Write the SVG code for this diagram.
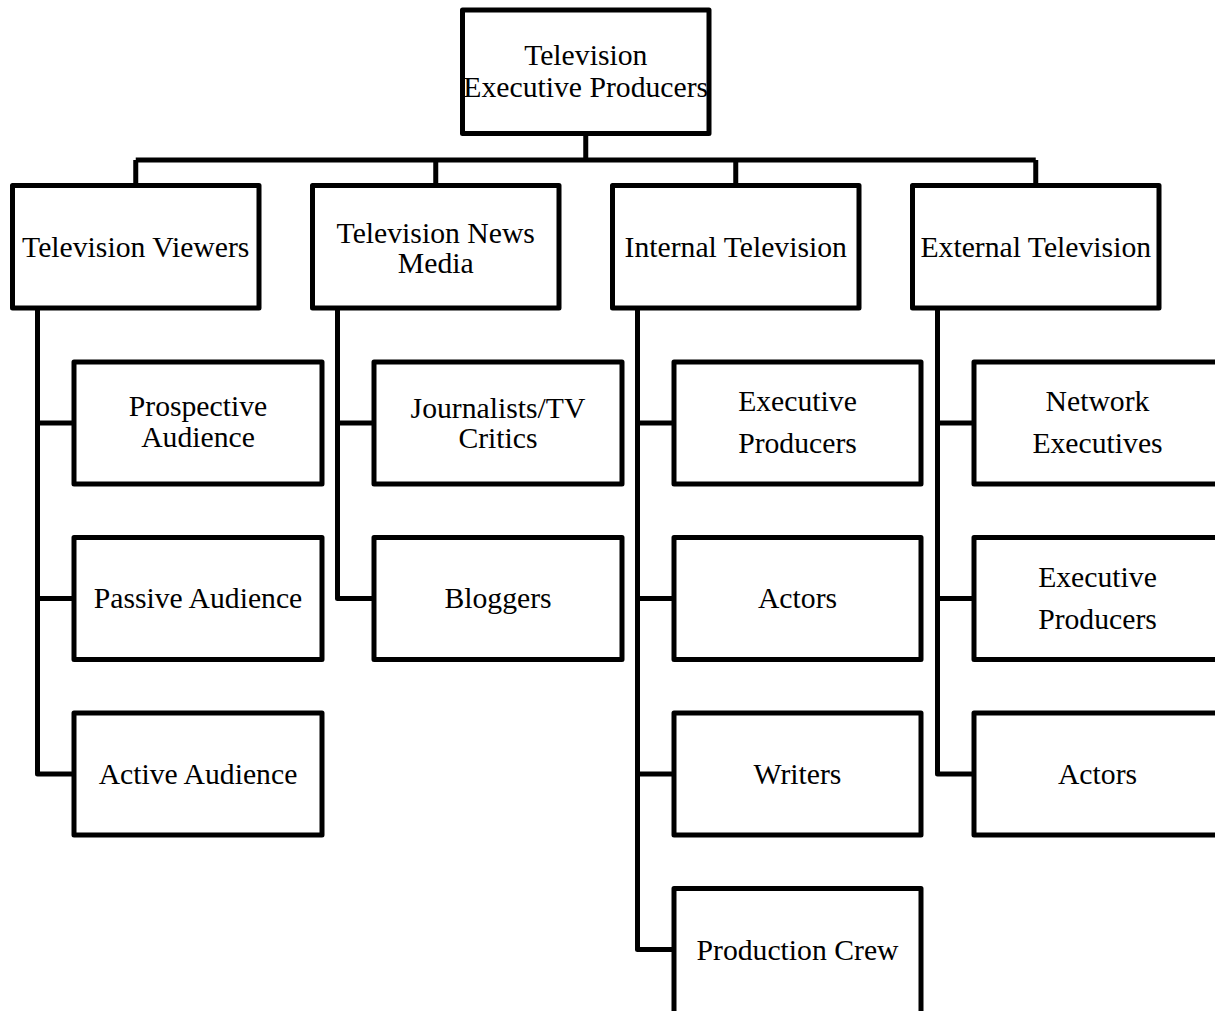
<svg xmlns="http://www.w3.org/2000/svg" width="1215" height="1011" viewBox="0 0 1215 1011">
<style>
.box{fill:#fff;stroke:#000;stroke-width:5;stroke-linejoin:round}
.con{fill:none;stroke:#000;stroke-width:5;stroke-linejoin:round}
text{font-family:"Liberation Serif","Times New Roman",serif;font-size:29.7px;fill:#000;text-anchor:middle}
</style>
<rect width="1215" height="1011" fill="#fff"/>
<g id="connectors">
<path class="con" d="M585.75,133.5V160M135.75,160H1035.75M135.75,160V185.5M435.75,160V185.5M735.75,160V185.5M1035.75,160V185.5"/>
<path class="con" d="M37.5,308V774H74M37.5,423H74M37.5,598.5H74"/>
<path class="con" d="M337.5,308V598.5H374M337.5,423H374"/>
<path class="con" d="M637.5,308V949.5H674M637.5,423H674M637.5,598.5H674M637.5,774H674"/>
<path class="con" d="M937.5,308V774H974M937.5,423H974M937.5,598.5H974"/>
</g>
<g id="root"><rect class="box" x="462.5" y="10" width="246.5" height="123.5"/><text x="585.75" y="65">Television<tspan x="585.75" y="96.5">Executive Producers</tspan></text></g>
<g id="tv-viewers"><rect class="box" x="12.5" y="185.5" width="246.5" height="122.5"/><text x="135.75" y="256.5">Television Viewers</text></g>
<g id="tv-news-media"><rect class="box" x="312.5" y="185.5" width="246.5" height="122.5"/><text x="435.75" y="242.5">Television News<tspan x="435.75" y="272.5">Media</tspan></text></g>
<g id="internal-tv"><rect class="box" x="612.5" y="185.5" width="246.5" height="122.5"/><text x="735.75" y="256.5">Internal Television</text></g>
<g id="external-tv"><rect class="box" x="912.5" y="185.5" width="246.5" height="122.5"/><text x="1035.75" y="256.5">External Television</text></g>
<g id="prospective-audience"><rect class="box" x="74" y="362" width="248" height="122"/><text x="198" y="416">Prospective<tspan x="198" y="446.5">Audience</tspan></text></g>
<g id="passive-audience"><rect class="box" x="74" y="537.5" width="248" height="122"/><text x="198" y="608">Passive Audience</text></g>
<g id="active-audience"><rect class="box" x="74" y="713" width="248" height="122"/><text x="198" y="783.5">Active Audience</text></g>
<g id="journalists"><rect class="box" x="374" y="362" width="248" height="122"/><text x="498" y="417.5">Journalists/TV<tspan x="498" y="448">Critics</tspan></text></g>
<g id="bloggers"><rect class="box" x="374" y="537.5" width="248" height="122"/><text x="498" y="608">Bloggers</text></g>
<g id="internal-exec-producers"><rect class="box" x="674" y="362" width="247" height="122"/><text x="797.5" y="411">Executive<tspan x="797.5" y="452.5">Producers</tspan></text></g>
<g id="internal-actors"><rect class="box" x="674" y="537.5" width="247" height="122"/><text x="797.5" y="608">Actors</text></g>
<g id="writers"><rect class="box" x="674" y="713" width="247" height="122"/><text x="797.5" y="783.5">Writers</text></g>
<g id="production-crew"><rect class="box" x="674" y="888.5" width="247" height="150"/><text x="797.5" y="959.5">Production Crew</text></g>
<g id="network-executives"><rect class="box" x="974" y="362" width="247" height="122"/><text x="1097.5" y="411">Network<tspan x="1097.5" y="452.5">Executives</tspan></text></g>
<g id="external-exec-producers"><rect class="box" x="974" y="537.5" width="247" height="122"/><text x="1097.5" y="587">Executive<tspan x="1097.5" y="628.5">Producers</tspan></text></g>
<g id="external-actors"><rect class="box" x="974" y="713" width="247" height="122"/><text x="1097.5" y="783.5">Actors</text></g>
</svg>
